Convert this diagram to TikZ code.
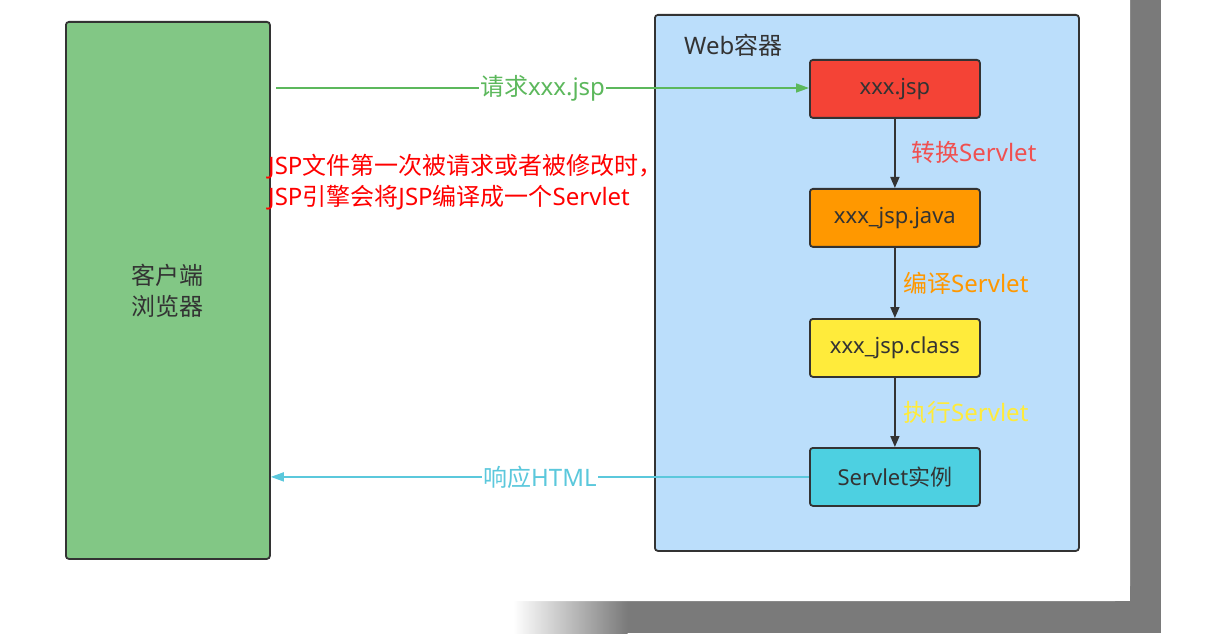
\documentclass[tikz,border=0pt]{standalone}
\usepackage{fontspec}
\setmainfont{Noto Sans CJK SC}
\newfontfamily\lat{Noto Sans}
\usetikzlibrary{arrows.meta,shadows}
\definecolor{bgray}{RGB}{122,122,122}
\definecolor{dark}{RGB}{51,51,51}
\definecolor{cgreen}{RGB}{130,199,133}
\definecolor{cblue}{RGB}{187,222,251}
\definecolor{cred}{RGB}{244,67,54}
\definecolor{corange}{RGB}{255,152,0}
\definecolor{cyellow}{RGB}{255,235,59}
\definecolor{ccyan}{RGB}{77,208,225}
\definecolor{lgreen}{RGB}{92,184,92}
\definecolor{lcyan}{RGB}{91,200,220}
\definecolor{lred}{RGB}{240,80,80}
\tikzset{
  panel/.style={draw=dark,line width=1.8pt,rounded corners=3pt},
  stepbox/.style={draw=dark,line width=1.8pt,rounded corners=3pt,minimum width=170pt,minimum height=58pt,inner sep=0pt,font=\fontsize{22}{26}\selectfont,text=dark,anchor=north west,drop shadow={opacity=0.25,shadow xshift=1pt,shadow yshift=-1pt}},
  flow/.style={draw=dark,line width=1.6pt,-{Triangle[length=11pt,width=9pt]}},
  flowlabel/.style={font=\fontsize{24}{28}\selectfont,anchor=base west,inner sep=0pt},
  biglabel/.style={font=\fontsize{24}{28}\selectfont,fill=white,inner sep=1pt},
  notetxt/.style={font=\fontsize{24}{28}\selectfont,text=red,anchor=base west,inner sep=0pt}
}
\begin{document}
\begin{tikzpicture}[x=1pt,y=-1pt]
\useasboundingbox (0,0) rectangle (1223,636);
% background frame
\fill[bgray] (1130,0) rectangle (1161,633);
\fill[bgray] (627,601) rectangle (1161,633);
\shade[left color=white,right color=bgray] (513,601) rectangle (627.5,633);
\fill[white] (0,0) -- (1130,0) -- (1130,586) arc[start angle=0,end angle=90,radius=15] -- (0,601) -- cycle;
% panels
\node[panel,fill=cgreen,minimum width=204pt,minimum height=537pt,anchor=north west,inner sep=0pt] (client) at (65,21) {};
\node[font=\fontsize{24}{31}\selectfont,text=dark,align=center] (clienttxt) at (167,291) {客户端\\浏览器};
\node[panel,fill=cblue,minimum width=424pt,minimum height=536pt,anchor=north west,inner sep=0pt] (web) at (654,14) {};
\node[font=\fontsize{24}{28}\selectfont,text=dark,anchor=base west,inner sep=0pt] (webtxt) at (684,55) {{\lat Web}容器};
% steps
\node[stepbox,fill=cred] (jsp) at (809,59) {\lat xxx.jsp};
\node[stepbox,fill=corange] (java) at (809,188) {\lat xxx\_jsp.java};
\node[stepbox,fill=cyellow] (class) at (809,318) {\lat xxx\_jsp.class};
\node[stepbox,fill=ccyan] (inst) at (809,447) {{\lat Servlet}实例};
% vertical arrows
\draw[flow] (jsp) -- (java);
\draw[flow] (java) -- (class);
\draw[flow] (class) -- (inst);
\node[flowlabel,text=lred] (l1) at (911,162) {转换{\lat Servlet}};
\node[flowlabel,text=corange] (l2) at (903,292) {编译{\lat Servlet}};
\node[flowlabel,text=cyellow] (l3) at (903,421) {执行{\lat Servlet}};
% horizontal arrows
\coordinate (reqstart) at (276,88);
\draw[lgreen,line width=1.6pt,-{Triangle[length=13pt,width=9pt]}] (reqstart) -- (jsp.west |- reqstart) node[biglabel,text=lgreen,pos=0.5] (req) {请求{\lat xxx.jsp}};
\draw[lcyan,line width=1.6pt,-{Triangle[length=13pt,width=9pt]}] (inst.west) -- (client.east |- inst.west) node[biglabel,text=lcyan,pos=0.5] (resp) {响应{\lat HTML}};
% note
\node[notetxt] (note1) at (268,175) {{\lat JSP}文件第一次被请求或者被修改时，};
\node[notetxt] (note2) at (268,206) {{\lat JSP}引擎会将{\lat JSP}编译成一个{\lat Servlet}};
\end{tikzpicture}
\end{document}
